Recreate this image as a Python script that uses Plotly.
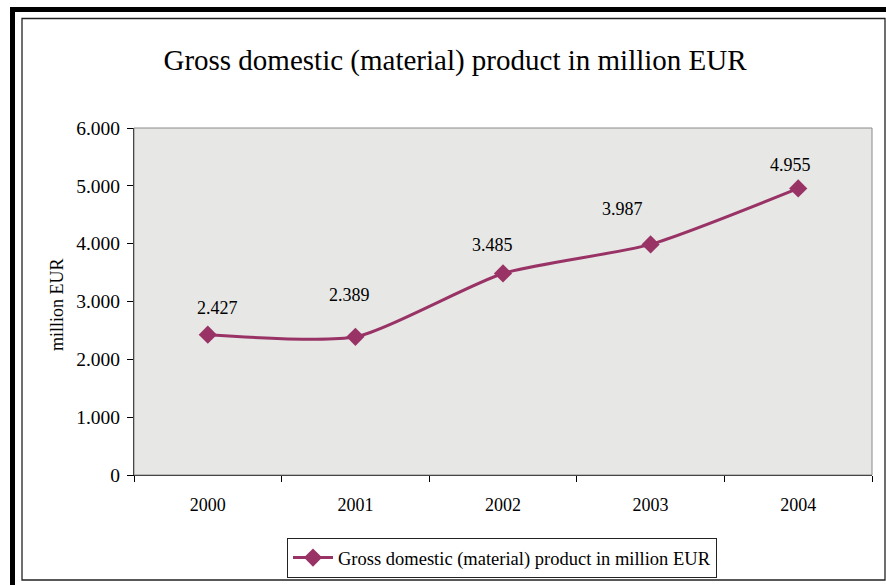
import plotly.graph_objects as go

years = ["2000", "2001", "2002", "2003", "2004"]
gdp = [2427, 2389, 3485, 3987, 4955]
y_ticks = [0, 1000, 2000, 3000, 4000, 5000, 6000]
series_name = "Gross domestic (material) product in million EUR"
title_text = "Gross domestic (material) product in million EUR"
y_title = "million EUR"

# label placement (style): pixel shifts of each value label from its point
label_dx = [10, -6, -11, -28, -8]
label_dy = [27, 42, 28, 35, 23]

W, H = 886, 585
L, R, T, B = 134, 872, 128, 475  # plot area pixel bounds

def px(x):
    return (x - L) / (R - L)

def py(y):
    return (B - y) / (B - T)

FONT = "Liberation Serif, Times New Roman, serif"
LINE = "#993366"

fig = go.Figure()
fig.add_trace(go.Scatter(
    x=years, y=gdp, name=series_name,
    mode="lines+markers",
    line=dict(color=LINE, width=3, shape="spline", smoothing=0.6),
    marker=dict(symbol="diamond", size=14, color=LINE),
))

for i, yv in enumerate(gdp):
    fig.add_annotation(x=i, y=yv, text=f"{yv:,}".replace(",", "."),
                       showarrow=False, xshift=label_dx[i], yshift=label_dy[i],
                       font=dict(family=FONT, size=18, color="#000"))

fig.add_annotation(xref="paper", yref="paper", x=px(57), y=py(305),
                   xanchor="center", yanchor="middle",
                   text=y_title, textangle=-90, showarrow=False,
                   font=dict(family=FONT, size=18, color="#000"))

shapes = [
    # gray plot border
    dict(type="rect", xref="paper", yref="paper", x0=0, x1=1, y0=0, y1=1,
         line=dict(color="#8a8a8a", width=1), layer="above"),
    # inner thin chart border
    dict(type="rect", xref="paper", yref="paper", x0=px(22), x1=px(885), y0=py(580), y1=py(18.5),
         line=dict(color="#222", width=1.3)),
    # thick outer border (left and top)
    dict(type="rect", xref="paper", yref="paper", x0=px(10), x1=px(15), y0=py(590), y1=py(7),
         fillcolor="#000", line=dict(width=0)),
    dict(type="rect", xref="paper", yref="paper", x0=px(10), x1=px(890), y0=py(12), y1=py(7),
         fillcolor="#000", line=dict(width=0)),
]

fig.update_layout(
    width=W, height=H,
    margin=dict(l=L, r=W - R, t=T, b=H - B, autoexpand=False),
    paper_bgcolor="#ffffff",
    plot_bgcolor="#e7e7e5",
    separators=",.",
    font=dict(family=FONT, size=18, color="#000"),
    title=dict(text=title_text, xref="container", yref="container",
               x=455 / W, y=1 - 60 / H, xanchor="center", yanchor="middle",
               font=dict(family=FONT, size=29, color="#000")),
    showlegend=True,
    legend=dict(xref="container", yref="container",
                x=502 / W, y=1 - 538 / H, xanchor="center", yanchor="top",
                orientation="h", bgcolor="#ffffff", bordercolor="#222", borderwidth=1,
                font=dict(family=FONT, size=18.5, color="#000"),
                itemwidth=40),
    shapes=shapes,
)

fig.update_xaxes(type="category", range=[-0.5, 4.5], showgrid=False, zeroline=False,
                 showline=True, linecolor="#000", linewidth=1,
                 ticks="outside", tickson="boundaries", ticklen=6, tickcolor="#000",
                 tickangle=0, ticklabelstandoff=13,
                 tickfont=dict(family=FONT, size=18, color="#000"))
fig.update_yaxes(range=[0, 6000], tickvals=y_ticks, tickformat=",d",
                 showgrid=False, zeroline=False,
                 showline=True, linecolor="#000", linewidth=1,
                 ticks="outside", ticklen=6, tickcolor="#000",
                 ticklabelstandoff=3,
                 tickfont=dict(family=FONT, size=19.5, color="#000"))

fig.write_html("out.html")
